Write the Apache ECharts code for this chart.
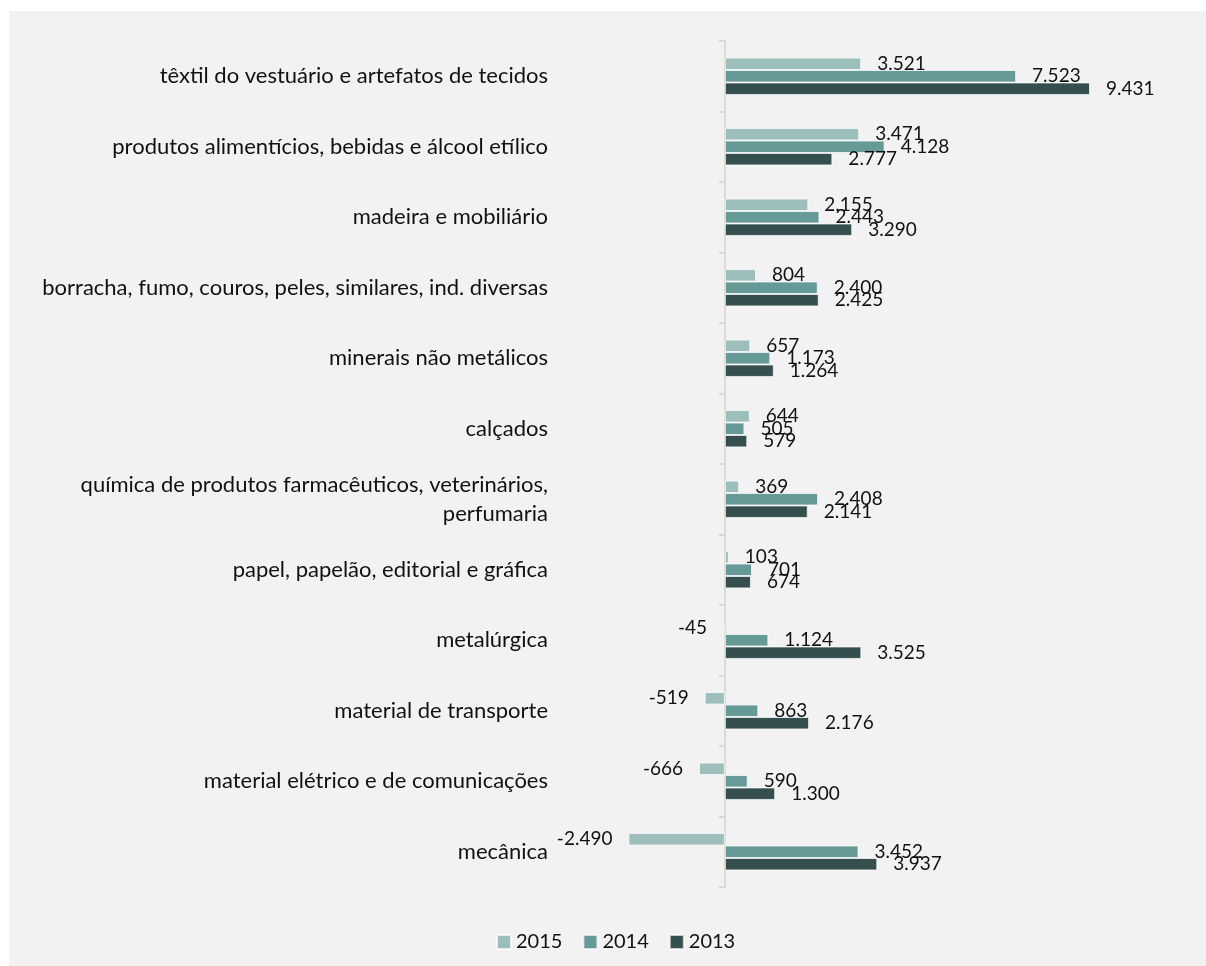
<!DOCTYPE html>
<html>
<head>
<meta charset="utf-8">
<script src="https://cdn.jsdelivr.net/npm/echarts@6/dist/echarts.min.js"></script>
<style>
  html, body { margin: 0; padding: 0; background: #fff; }
  #chart { width: 1206px; height: 966px; }
</style>
</head>
<body>
<div id="chart"></div>
<script>
// categories, top to bottom
const categories = [
  'têxtil do vestuário e artefatos de tecidos',
  'produtos alimentícios, bebidas e álcool etílico',
  'madeira e mobiliário',
  'borracha, fumo, couros, peles, similares, ind. diversas',
  'minerais não metálicos',
  'calçados',
  'química de produtos farmacêuticos, veterinários,\nperfumaria',
  'papel, papelão, editorial e gráfica',
  'metalúrgica',
  'material de transporte',
  'material elétrico e de comunicações',
  'mecânica'
]
const years = ['2015', '2014', '2013']
const values2015 = [3521, 3471, 2155, 804, 657, 644, 369, 103, -45, -519, -666, -2490]
const values2014 = [7523, 4128, 2443, 2400, 1173, 505, 2408, 701, 1124, 863, 590, 3452]
const values2013 = [9431, 2777, 3290, 2425, 1264, 579, 2141, 674, 3525, 2176, 1300, 3937]
const colors = ['#9dbfbc', '#669a97', '#344f4e']

const font = 'Lato, "Open Sans", sans-serif'
const fmt = v => String(v).replace(/\B(?=(\d{3})+(?!\d))/g, '.')

function makeSeries(name, data, color) {
  return {
    name: name,
    type: 'bar',
    barGap: 0,
    barCategoryGap: '47%',
    itemStyle: { color: color, borderColor: 'rgba(255,255,255,0.7)', borderWidth: 1 },
    label: {
      show: true,
      color: '#111',
      fontFamily: font,
      fontSize: 19,
      distance: 16,
      formatter: p => fmt(p.value)
    },
    data: data.map(v => ({ value: v, label: { position: v < 0 ? 'left' : 'right' } })),
    animation: false
  }
}

const chart = echarts.init(document.getElementById('chart'))
chart.setOption({
  backgroundColor: '#fff',
  graphic: [{
    type: 'rect',
    shape: { x: 9, y: 11, width: 1197, height: 955 },
    style: { fill: '#f2f2f2' },
    z: -10
  }],
  textStyle: { fontFamily: font },
  grid: { left: 570, top: 41, width: 542, height: 846, outerBoundsMode: 'none', containLabel: false },
  legend: {
    data: years,
    left: 491,
    top: 927,
    itemWidth: 14,
    itemHeight: 14,
    itemGap: 20,
    icon: 'rect',
    textStyle: { fontFamily: font, fontSize: 20, color: '#111' }
  },
  xAxis: {
    type: 'value',
    min: -4000,
    max: 10000,
    show: false,
    splitLine: { show: false }
  },
  yAxis: {
    type: 'category',
    inverse: true,
    data: categories,
    axisLine: { onZero: true, lineStyle: { color: '#dedad2', width: 2 } },
    axisTick: { show: true, length: 6, lineStyle: { color: '#dedad2', width: 2 } },
    axisLabel: { margin: 22, fontFamily: font, fontSize: 22, color: '#111', align: 'right', lineHeight: 29 }
  },
  series: [
    makeSeries(years[0], values2015, colors[0]),
    makeSeries(years[1], values2014, colors[1]),
    makeSeries(years[2], values2013, colors[2])
  ]
})
</script>
</body>
</html>
